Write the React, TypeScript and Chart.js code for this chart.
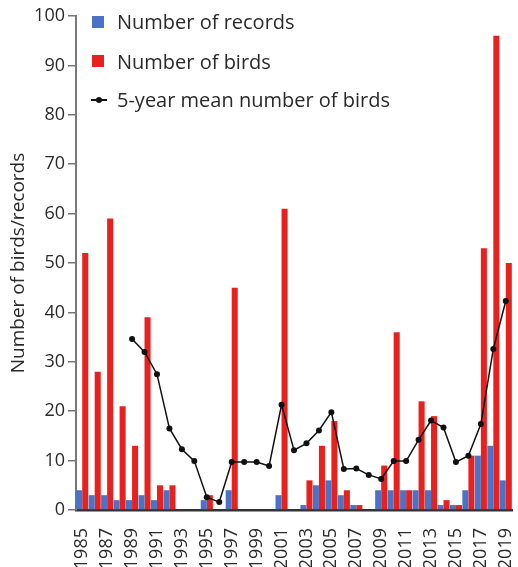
import React, { useEffect, useRef } from "react";
import { Chart, registerables } from "chart.js";

Chart.register(...registerables);

const years: string[] = [
  "1985","1986","1987","1988","1989","1990","1991","1992","1993","1994",
  "1995","1996","1997","1998","1999","2000","2001","2002","2003","2004",
  "2005","2006","2007","2008","2009","2010","2011","2012","2013","2014",
  "2015","2016","2017","2018","2019",
];

const records: number[] = [
  4, 3, 3, 2, 2, 3, 2, 4, 0, 0,
  2, 0, 4, 0, 0, 0, 3, 0, 1, 5,
  6, 3, 1, 0, 4, 4, 4, 4, 4, 1,
  1, 4, 11, 13, 6,
];

const birds: number[] = [
  52, 28, 59, 21, 13, 39, 5, 5, 0, 0,
  3, 0, 45, 0, 0, 0, 61, 0, 6, 13,
  18, 4, 1, 0, 9, 36, 4, 22, 19, 2,
  1, 11, 53, 96, 50,
];

const mean5: (number | null)[] = [
  null, null, null, null, 34.6, 32.0, 27.5, 16.5, 12.3, 9.9,
  2.6, 1.6, 9.7, 9.7, 9.7, 8.9, 21.3, 12.1, 13.5, 16.1,
  19.8, 8.3, 8.4, 7.1, 6.3, 9.9, 9.9, 14.2, 18.1, 16.7,
  9.7, 11.0, 17.4, 32.6, 42.3,
];

const yTicks = { min: 0, max: 100, step: 10 };
const legendLabels = ["Number of records", "Number of birds", "5-year mean number of birds"];

const BLUE = "#4a72c6";
const RED = "#e8201e";
const FONT = "'Open Sans', sans-serif";
const TEXT = "#2a2a2a";

export default function App() {
  const ref = useRef<HTMLCanvasElement | null>(null);

  useEffect(() => {
    document.body.style.margin = "0";
    const canvas = ref.current;
    if (!canvas) return;
    const chart = new Chart(canvas, {
      type: "bar",
      data: {
        labels: years,
        datasets: [
          {
            type: "line",
            label: legendLabels[2],
            data: mean5,
            borderColor: "#111",
            backgroundColor: "#111",
            borderWidth: 1.5,
            pointRadius: 3,
            pointBackgroundColor: "#111",
            pointBorderWidth: 0,
            tension: 0,
            order: 0,
          } as any,
          {
            label: legendLabels[0],
            data: records,
            backgroundColor: BLUE,
            categoryPercentage: 0.97,
            barPercentage: 1,
            order: 1,
          },
          {
            label: legendLabels[1],
            data: birds,
            backgroundColor: RED,
            categoryPercentage: 0.97,
            barPercentage: 1,
            order: 1,
          },
        ],
      },
      options: {
        responsive: false,
        animation: false,
        layout: { padding: { top: 16, right: 6, left: 0, bottom: 0 } },
        plugins: { legend: { display: false }, tooltip: { enabled: false } },
        scales: {
          x: {
            offset: true,
            grid: { display: false },
            border: { display: true, color: "#333", width: 2.5 },
            ticks: {
              autoSkip: false,
              minRotation: 90,
              maxRotation: 90,
              padding: 10,
              color: TEXT,
              font: { family: FONT, size: 18 },
              callback: (_v: any, i: number) => (i % 2 === 0 ? years[i] : ""),
            },
            afterFit: (s: any) => {
              s.height = 57;
              s.paddingLeft = 0;
              s.paddingRight = 0;
            },
          },
          y: {
            min: yTicks.min,
            max: yTicks.max,
            grid: {
              display: true,
              drawOnChartArea: false,
              drawTicks: true,
              tickLength: 8,
              color: "#777",
              lineWidth: 1.5,
            },
            border: { display: true, color: "#777", width: 2 },
            ticks: {
              stepSize: yTicks.step,
              padding: 3,
              color: TEXT,
              font: { family: FONT, size: 18 },
            },
            title: {
              display: true,
              text: "Number of birds/records",
              color: TEXT,
              font: { family: FONT, size: 19 },
              padding: { top: 7, bottom: 0 },
            },
            afterFit: (s: any) => {
              s.width = 76;
            },
          },
        },
      },
    });
    return () => chart.destroy();
  }, []);

  const textStyle: React.CSSProperties = {
    position: "absolute",
    left: 117,
    fontFamily: FONT,
    fontSize: 20,
    color: TEXT,
    lineHeight: "24px",
    whiteSpace: "nowrap",
  };

  return (
    <div style={{ position: "relative", width: 518, height: 567, background: "#fff" }}>
      <canvas ref={ref} width={518} height={567} style={{ display: "block" }} />
      <div style={{ position: "absolute", left: 92, top: 16, width: 12, height: 12, background: BLUE }} />
      <div style={{ ...textStyle, top: 10 }}>{legendLabels[0]}</div>
      <div style={{ position: "absolute", left: 92, top: 55, width: 12, height: 12, background: RED }} />
      <div style={{ ...textStyle, top: 50 }}>{legendLabels[1]}</div>
      <div style={{ position: "absolute", left: 91, top: 99, width: 16, height: 1.5, background: "#111" }} />
      <div style={{ position: "absolute", left: 96, top: 97, width: 6, height: 6, borderRadius: 3, background: "#111" }} />
      <div style={{ ...textStyle, top: 88 }}>{legendLabels[2]}</div>
    </div>
  );
}
